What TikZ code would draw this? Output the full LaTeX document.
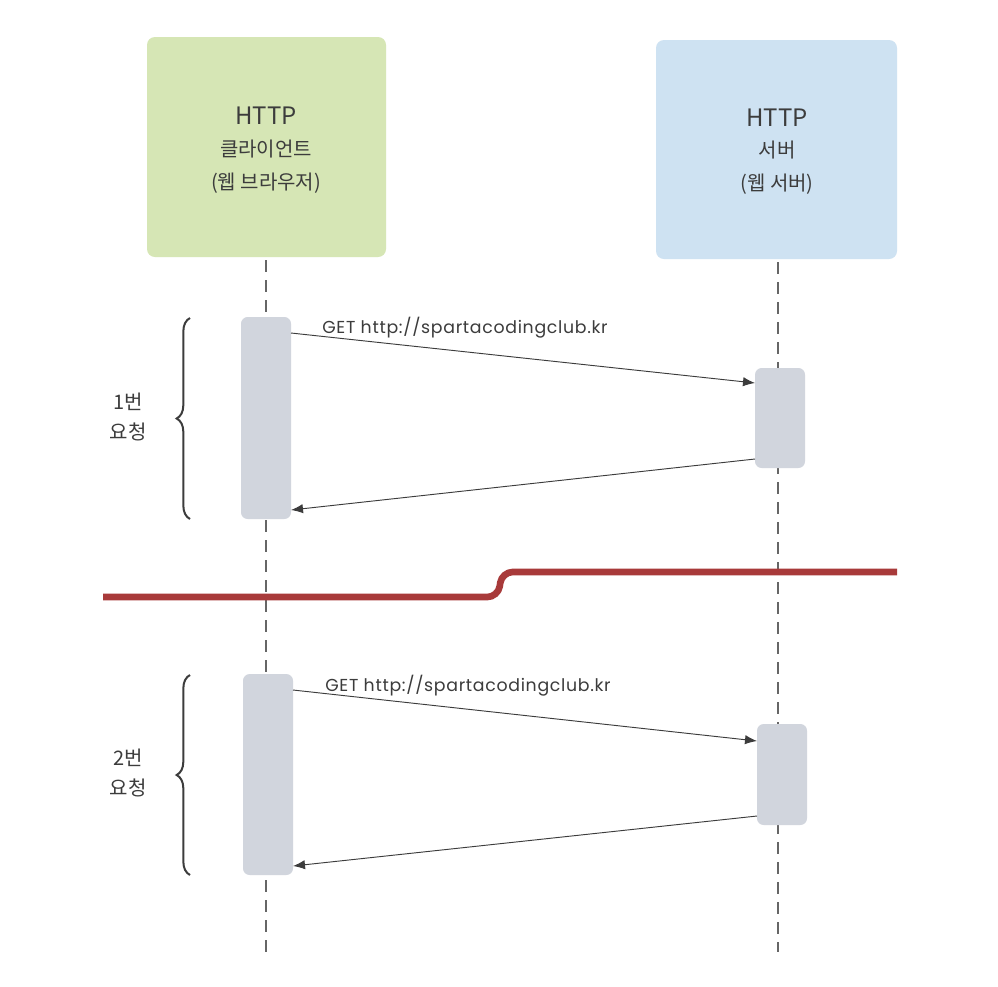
\documentclass[tikz,border=0pt]{standalone}
\usepackage{fontspec}
\setmainfont{Noto Sans CJK KR}
\newfontfamily\lblfont[LetterSpace=4]{Poppins}
\usetikzlibrary{decorations.pathreplacing,arrows.meta}
\definecolor{cgreen}{RGB}{214,230,181}
\definecolor{cblue}{RGB}{206,226,242}
\definecolor{cgray}{RGB}{209,213,221}
\definecolor{cred}{RGB}{168,58,58}
\definecolor{ctext}{RGB}{60,60,60}
\begin{document}
\begin{tikzpicture}[x=0.75pt,y=-0.75pt,
  box/.style={rounded corners=6pt},
  act/.style={fill=cgray,rounded corners=5pt},
  life/.style={dashed,dash pattern=on 9pt off 6pt,gray!80!black,line width=0.8pt},
  msg/.style={-{Latex[length=9pt,width=7pt]},line width=0.7pt,ctext},
  lbl/.style={font=\lblfont\fontsize{13}{14}\selectfont,text=ctext,inner sep=0pt,anchor=west},
  brc/.style={decorate,decoration={brace,amplitude=10pt},line width=1.5pt,ctext},
  t1/.style={font=\fontsize{18}{22}\selectfont,text=ctext,inner sep=0pt},
  t2/.style={font=\fontsize{15}{18}\selectfont,text=ctext,inner sep=0pt},
  side/.style={font=\fontsize{15}{22}\selectfont,text=ctext,align=center}]
\useasboundingbox (0,0) rectangle (998,986);
\fill[white] (0,0) rectangle (998,986);
% lifelines
\draw[life] (266,260) -- (266,952);
\draw[life] (778,262) -- (778,952);
% header boxes
\fill[cgreen,box] (147,37) rectangle (386,257);
\fill[cblue,box] (656,40) rectangle (897,259);
\node[t1] (cl1) at (266,116) {HTTP};
\node[t2] (cl2) at (266,149) {클라이언트};
\node[t2] (cl3) at (266,183) {(웹 브라우저)};
\node[t1] (sv1) at (777,118) {HTTP};
\node[t2] (sv2) at (777,150) {서버};
\node[t2] (sv3) at (777,184) {(웹 서버)};
% activations
\fill[act] (241,317) rectangle (291,519);
\fill[act] (755,368) rectangle (805,468);
\fill[act] (243,674) rectangle (293,875);
\fill[act] (757,724) rectangle (807,825);
\coordinate (a1) at (291,333); \coordinate (b1) at (755,383);
\coordinate (c1) at (755,459); \coordinate (d1) at (291,510);
\coordinate (a2) at (293,690); \coordinate (b2) at (757,741);
\coordinate (c2) at (757,816); \coordinate (d2) at (293,866);
\draw[msg] (a1) -- (b1);
\draw[msg] (c1) -- (d1);
\draw[msg] (a2) -- (b2);
\draw[msg] (c2) -- (d2);
\node[lbl] (g1) at (322,328) {GET http://spartacodingclub.kr};
\node[lbl] (g2) at (325,686) {GET http://spartacodingclub.kr};
% braces
\draw[brc] (190,519) -- (190,318);
\draw[brc] (190,875) -- (190,675);
\node[side] (r1) at (128,417) {1번\\요청};
\node[side] (r2) at (128,773) {2번\\요청};
% red line
\draw[cred,line width=5pt,rounded corners=8pt] (103,597) -- (498,597) -- (502,572) -- (897,572);
\end{tikzpicture}
\end{document}
